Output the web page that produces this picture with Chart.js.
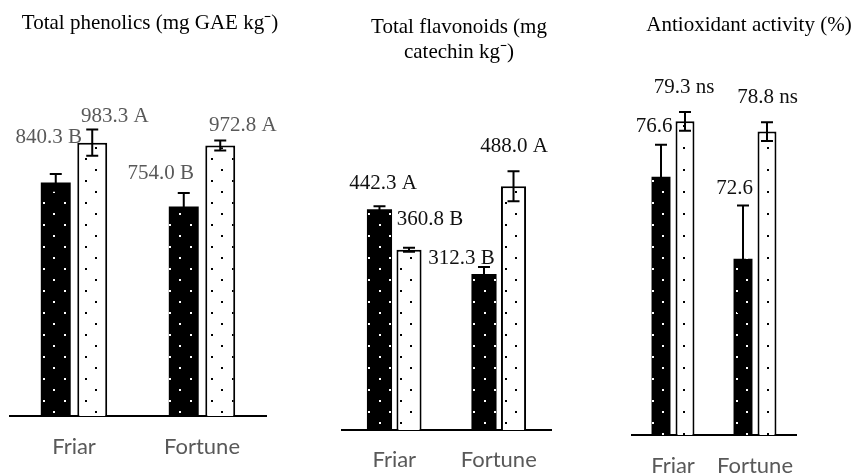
<!DOCTYPE html>
<html><head><meta charset="utf-8">
<script src="https://cdn.jsdelivr.net/npm/chart.js@4"></script>
<style>
html,body{margin:0;padding:0;background:#fff;overflow:hidden;width:856px;height:476px}
canvas{position:absolute;left:0;top:0}
</style></head><body>
<canvas id="c1" width="856" height="476"></canvas>
<canvas id="c2" width="856" height="476"></canvas>
<canvas id="c3" width="856" height="476"></canvas>
<script>
// ---------- data ----------
const categories = ['Friar', 'Fortune'];

const phenolicsTitle = ['Total phenolics (mg GAE kg\u207B)'];
const phenolicsBlack = [840.3, 754.0];
const phenolicsWhite = [983.3, 972.8];
const phenolicsBlackErr = [30, 48];
const phenolicsWhiteErr = [47, 18];
const phenolicsBlackLabels = ['840.3 B', '754.0 B'];
const phenolicsWhiteLabels = ['983.3 A', '972.8 A'];

const flavonoidsTitle = ['Total flavonoids (mg', 'catechin kg\u207B)'];
const flavonoidsBlack = [442.3, 312.3];
const flavonoidsWhite = [360.8, 488.0];
const flavonoidsBlackErr = [6, 14];
const flavonoidsWhiteErr = [4, 30];
const flavonoidsBlackLabels = ['442.3 A', '312.3 B'];
const flavonoidsWhiteLabels = ['360.8 B', '488.0 A'];

const antioxTitle = ['Antioxidant activity (%)'];
const antioxBlack = [76.6, 72.6];
const antioxWhite = [79.3, 78.8];
const antioxBlackErr = [1.56, 2.6];
const antioxWhiteErr = [0.46, 0.46];
const antioxBlackLabels = ['76.6', '72.6'];
const antioxWhiteLabels = ['79.3 ns', '78.8 ns'];

// ---------- patterns ----------
function dotPattern(bg, dot) {
  const c = document.createElement('canvas');
  c.width = 21; c.height = 22;
  const g = c.getContext('2d');
  g.fillStyle = bg; g.fillRect(0, 0, 21, 22);
  g.fillStyle = dot;
  g.fillRect(1, 4, 2, 2);
  g.fillRect(11, 15, 2, 2);
  return g.createPattern(c, 'repeat');
}
const blackPattern = dotPattern('#000', '#fff');
const whitePattern = dotPattern('#fff', '#000');

// ---------- plugin: error bars, value labels, panel title ----------
const extrasPlugin = {
  id: 'extras',
  afterDatasetsDraw(chart, args, opts) {
    const ctx = chart.ctx;
    const ys = chart.scales.y;
    chart.data.datasets.forEach((ds, di) => {
      const meta = chart.getDatasetMeta(di);
      meta.data.forEach((bar, i) => {
        const v = ds.data[i], e = ds.errors[i];
        const x = bar.x;
        const yt = ys.getPixelForValue(v + e), yb = ys.getPixelForValue(v - e);
        ctx.save();
        ctx.strokeStyle = '#000'; ctx.lineWidth = 2;
        ctx.beginPath();
        ctx.moveTo(x, yt); ctx.lineTo(x, yb);
        ctx.moveTo(x - 6, yt); ctx.lineTo(x + 6, yt);
        ctx.moveTo(x - 6, yb); ctx.lineTo(x + 6, yb);
        ctx.stroke();
        ctx.restore();
      });
    });
    chart.data.datasets.forEach((ds, di) => {
      const meta = chart.getDatasetMeta(di);
      meta.data.forEach((bar, i) => {
        const off = opts.labelOffsets[di][i];
        ctx.save();
        ctx.font = opts.labelFont; ctx.fillStyle = opts.labelColor;
        ctx.textAlign = 'center'; ctx.textBaseline = 'middle';
        ctx.fillText(ds.valueLabels[i], bar.x + off[0], bar.y + off[1]);
        ctx.restore();
      });
    });
    ctx.save();
    ctx.font = opts.titleFont; ctx.fillStyle = '#000';
    ctx.textAlign = 'center'; ctx.textBaseline = 'middle';
    opts.title.forEach((line, k) => ctx.fillText(line, opts.titleX, opts.titleY + k * opts.titleGap));
    ctx.restore();
  }
};

function makeChart(id, cfg) {
  return new Chart(document.getElementById(id), {
    type: 'bar',
    data: {
      labels: categories,
      datasets: [
        { data: cfg.black, errors: cfg.blackErr, valueLabels: cfg.blackLabels,
          backgroundColor: blackPattern, borderColor: '#000', borderWidth: 0,
          categoryPercentage: cfg.catPct, barPercentage: cfg.barPct },
        { data: cfg.white, errors: cfg.whiteErr, valueLabels: cfg.whiteLabels,
          backgroundColor: whitePattern, borderColor: '#000', borderWidth: 2,
          categoryPercentage: cfg.catPct, barPercentage: cfg.barPct }
      ]
    },
    options: {
      responsive: false, animation: false,
      layout: { padding: { left: cfg.left, right: 856 - cfg.right, top: cfg.top, bottom: 0 } },
      plugins: {
        legend: { display: false }, tooltip: { enabled: false },
        extras: {
          labelOffsets: cfg.offsets, labelFont: '21px "Liberation Serif"', labelColor: cfg.labelColor,
          title: cfg.title, titleX: cfg.titleX, titleY: cfg.titleY, titleGap: 25,
          titleFont: '21px "Liberation Serif"'
        }
      },
      scales: {
        x: {
          grid: { display: false, drawTicks: false },
          border: { display: true, color: '#000', width: 2 },
          ticks: { color: '#595959', font: { family: 'Lato', size: 22 }, padding: cfg.tickPad,
                   maxRotation: 0, minRotation: 0, autoSkip: false },
          afterFit: s => { s.height = 476 - cfg.bottom; }
        },
        y: { display: false, min: cfg.min, max: cfg.max }
      }
    },
    plugins: [extrasPlugin]
  });
}

makeChart('c1', {
  black: phenolicsBlack, white: phenolicsWhite, blackErr: phenolicsBlackErr, whiteErr: phenolicsWhiteErr,
  blackLabels: phenolicsBlackLabels, whiteLabels: phenolicsWhiteLabels,
  left: 10, right: 266, top: 82.4, bottom: 416, min: 0, max: 1200,
  catPct: 0.57, barPct: 0.82, tickPad: 18,
  offsets: [[[-7, -45], [-23, -33]], [[22.5, -26], [22.5, -20]]], labelColor: '#595959',
  title: phenolicsTitle, titleX: 150, titleY: 23
});
makeChart('c2', {
  black: flavonoidsBlack, white: flavonoidsWhite, blackErr: flavonoidsBlackErr, whiteErr: flavonoidsWhiteErr,
  blackLabels: flavonoidsBlackLabels, whiteLabels: flavonoidsWhiteLabels,
  left: 342, right: 551, top: 130.4, bottom: 430, min: 0, max: 600,
  catPct: 0.565, barPct: 0.85, tickPad: 17,
  offsets: [[[3.5, -26], [-22.5, -16]], [[21, -30], [0.5, -40]]], labelColor: '#111',
  title: flavonoidsTitle, titleX: 459, titleY: 27
});
makeChart('c3', {
  black: antioxBlack, white: antioxWhite, blackErr: antioxBlackErr, whiteErr: antioxWhiteErr,
  blackLabels: antioxBlackLabels, whiteLabels: antioxWhiteLabels,
  left: 632, right: 796, top: 66, bottom: 435, min: 64, max: 82,
  catPct: 0.585, barPct: 0.79, tickPad: 18,
  offsets: [[[-7, -50], [-8.5, -70]], [[-1, -34], [0.5, -34]]], labelColor: '#111',
  title: antioxTitle, titleX: 749, titleY: 25
});
</script>
</body></html>
